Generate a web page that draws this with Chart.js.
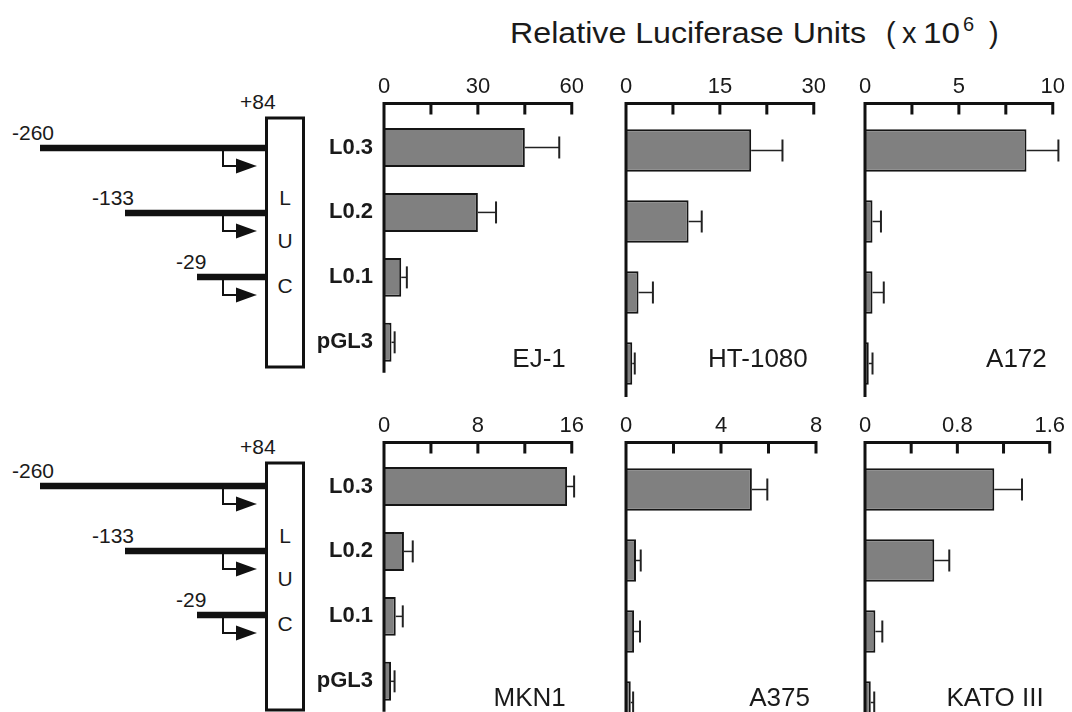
<!DOCTYPE html>
<html>
<head>
<meta charset="utf-8">
<script src="https://cdn.jsdelivr.net/npm/chart.js@4.4.1/dist/chart.umd.min.js"></script>
<style>
    html, body { margin: 0; padding: 0; background: #fff; }
    #page { position: relative; width: 1072px; height: 712px; overflow: hidden; background: #fff; }
    #page canvas { position: absolute; }
    #art { position: absolute; left: 0; top: 0; }
    #art text { font-family: "Liberation Sans", Arial, Helvetica, sans-serif; fill: #1a1a1a; }
</style>
</head>
<body>
<div id="page">
    <svg id="art" width="1072" height="712" xmlns="http://www.w3.org/2000/svg"></svg>
    <canvas id="c0" width="285" height="339"></canvas>
    <canvas id="c1" width="285" height="339"></canvas>
    <canvas id="c2" width="285" height="339"></canvas>
    <canvas id="c3" width="285" height="339"></canvas>
    <canvas id="c4" width="285" height="339"></canvas>
    <canvas id="c5" width="285" height="339"></canvas>
</div>
<script>
// Data (x 10^6 RLU)
const constructs = ['L0.3', 'L0.2', 'L0.1', 'pGL3'];
const cellLines = ['EJ-1', 'HT-1080', 'A172', 'MKN1', 'A375', 'KATO III'];
const axisMax = [60, 30, 10, 16, 8, 1.6];

const ej1 = [45, 30, 5.5, 2.4];
const ej1Err = [11, 5.8, 1.8, 1.0];
const ht1080 = [20, 10, 2, 1];
const ht1080Err = [5, 2.1, 2.3, 0.4];
const a172 = [8.6, 0.4, 0.4, 0.2];
const a172Err = [1.7, 0.45, 0.6, 0.2];
const mkn1 = [15.6, 1.7, 1.0, 0.6];
const mkn1Err = [0.6, 0.75, 0.6, 0.3];
const a375 = [5.3, 0.42, 0.34, 0.2];
const a375Err = [0.65, 0.2, 0.25, 0.1];
const kato3 = [1.12, 0.6, 0.09, 0.05];
const kato3Err = [0.24, 0.13, 0.06, 0.03];

const means = [ej1, ht1080, a172, mkn1, a375, kato3];
const errors = [ej1Err, ht1080Err, a172Err, mkn1Err, a375Err, kato3Err];

// promoter fragment labels for the construct diagram
const fragmentLabels = ['-260', '-133', '-29'];

const FONT = '"Liberation Sans", Arial, Helvetica, sans-serif';
const INK = '#1a1a1a';

// ---- construct diagrams + title (plain svg) ----
const svg = document.getElementById('art');
const NS = 'http://www.w3.org/2000/svg';
function el(tag, attrs, text) {
    const e = document.createElementNS(NS, tag);
    for (const k in attrs) e.setAttribute(k, attrs[k]);
    if (text !== undefined) e.textContent = text;
    svg.appendChild(e);
    return e;
}

function drawConstruct(dy, boxTop, boxBottom) {
    const starts = [40, 125, 197];
    const lineY = [148, 213, 277];
    const labelX = [12, 92, 176];
    fragmentLabels.forEach((lab, k) => {
        const y = lineY[k] + dy;
        el('line', { x1: starts[k], y1: y, x2: 267, y2: y, stroke: '#111', 'stroke-width': 6.5 });
        el('text', { x: labelX[k], y: y - 8, 'font-size': 21 }, lab);
        // bent arrow (transcription start)
        el('path', { d: `M223,${y + 3} V${y + 18} H240`, fill: 'none', stroke: '#111', 'stroke-width': 2 });
        el('polygon', { points: `236,${y + 10.5} 257,${y + 18} 236,${y + 25.5}`, fill: '#111' });
    });
    el('rect', { x: 266.5, y: boxTop, width: 37, height: boxBottom - boxTop, fill: '#fff', stroke: '#111', 'stroke-width': 3 });
    el('text', { x: 240, y: boxTop - 9, 'font-size': 21 }, '+84');
    ['L', 'U', 'C'].forEach((ch, k) => {
        el('text', { x: 285, y: [205, 248, 293][k] + dy, 'font-size': 21, 'text-anchor': 'middle' }, ch);
    });
}
drawConstruct(0, 118, 367);
drawConstruct(338, 463, 710);

// title
el('text', { x: 510, y: 43, 'font-size': 29, textLength: 356, lengthAdjust: 'spacingAndGlyphs' }, 'Relative Luciferase Units');
el('text', { x: 886, y: 43, 'font-size': 29 }, '(');
el('text', { x: 902, y: 43, 'font-size': 29 }, 'x');
el('text', { x: 923, y: 43, 'font-size': 29, textLength: 37, lengthAdjust: 'spacingAndGlyphs' }, '10');
el('text', { x: 963, y: 31, 'font-size': 20 }, '6');
el('text', { x: 989, y: 43, 'font-size': 29 }, ')');

// ---- bar panels ----
const panelPlugin = {
    id: 'panel',
    afterDatasetsDraw(chart, args, opts) {
        const { ctx, chartArea: a } = chart;
        const x = chart.scales.x;
        const axisY = a.top - 11.5;
        ctx.save();
        ctx.strokeStyle = '#111';
        ctx.lineWidth = 3;
        ctx.beginPath();
        ctx.moveTo(a.left - 1.5, axisY);
        ctx.lineTo(a.right + 1.5, axisY);
        ctx.moveTo(a.left, axisY - 1.5);
        ctx.lineTo(a.left, a.bottom - 2);
        x.ticks.forEach(t => {
            const px = x.getPixelForValue(t.value);
            ctx.moveTo(px, axisY);
            ctx.lineTo(px, axisY + 11);
        });
        ctx.stroke();

        // error bars
        const ds = chart.data.datasets[0];
        chart.getDatasetMeta(0).data.forEach((bar, k) => {
            const xe = x.getPixelForValue(ds.data[k] + ds.errors[k]);
            ctx.strokeStyle = '#222';
            ctx.lineWidth = 1.5;
            ctx.beginPath();
            ctx.moveTo(bar.x, bar.y);
            ctx.lineTo(xe, bar.y);
            ctx.stroke();
            ctx.lineWidth = 2;
            ctx.beginPath();
            ctx.moveTo(xe, bar.y - 11);
            ctx.lineTo(xe, bar.y + 11);
            ctx.stroke();
        });

        // cell line name
        ctx.fillStyle = INK;
        ctx.font = '26px ' + FONT;
        ctx.textAlign = 'right';
        ctx.textBaseline = 'alphabetic';
        ctx.fillText(opts.label, a.right - 6, a.top + 252);
        ctx.restore();
    }
};

const colAxis = [384, 626, 865];

cellLines.forEach((name, i) => {
    const col = i % 3, row = Math.floor(i / 3);
    const canvas = document.getElementById('c' + i);
    canvas.style.left = (colAxis[col] - 70) + 'px';
    canvas.style.top = (row === 0 ? 60 : 399) + 'px';

    new Chart(canvas, {
        type: 'bar',
        data: {
            labels: constructs,
            datasets: [{
                data: means[i],
                errors: errors[i],
                backgroundColor: '#808080',
                borderColor: '#151515',
                borderWidth: 2,
                borderSkipped: 'start',
                categoryPercentage: 1,
                barPercentage: 0.6
            }]
        },
        options: {
            indexAxis: 'y',
            responsive: false,
            animation: false,
            devicePixelRatio: 1,
            layout: { padding: { top: 0, right: 25, bottom: 0, left: 0 } },
            plugins: {
                legend: { display: false },
                tooltip: { enabled: false },
                panel: { label: name }
            },
            scales: {
                x: {
                    position: 'top',
                    min: 0,
                    max: axisMax[i],
                    ticks: {
                        stepSize: axisMax[i] / 4,
                        autoSkip: false,
                        maxRotation: 0,
                        padding: 15,
                        color: INK,
                        font: { family: FONT, size: 22 },
                        callback: (v, idx) => idx % 2 === 0 ? String(v) : ''
                    },
                    grid: { display: false, drawTicks: false },
                    border: { display: false },
                    afterFit: s => { s.height = 55; }
                },
                y: {
                    ticks: {
                        display: col === 0,
                        padding: 11,
                        color: INK,
                        font: { family: FONT, size: 22, weight: 'bold' }
                    },
                    grid: { display: false, drawTicks: false },
                    border: { display: false },
                    afterFit: s => { s.width = 70; }
                }
            }
        },
        plugins: [panelPlugin]
    });
});
</script>
</body>
</html>
